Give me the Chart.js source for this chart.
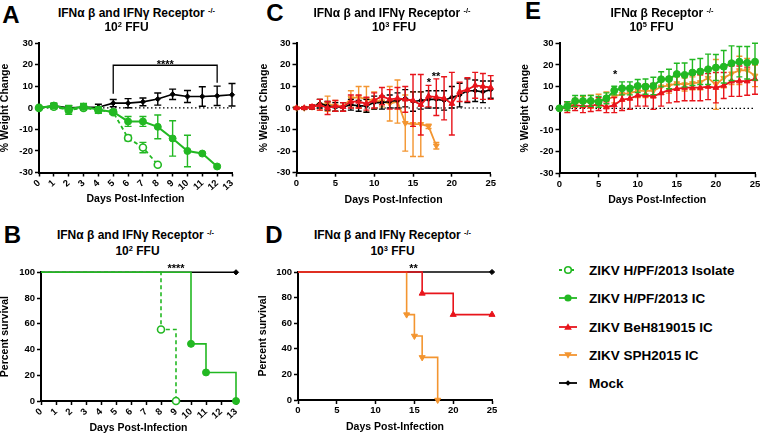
<!DOCTYPE html>
<html>
<head>
<meta charset="utf-8">
<script src="https://cdn.jsdelivr.net/npm/chart.js@4.4.0/dist/chart.umd.min.js"></script>
<style>
body { margin: 0; width: 760px; height: 434px; overflow: hidden; background: #fff; position: relative;
       font-family: 'Liberation Sans', Arial, sans-serif; }
canvas { position: absolute; }
.t { position: absolute; font-weight: bold; white-space: nowrap; transform: translate(-50%, -50%); color: #000; line-height: 1; }
.t sup { font-size: 0.62em; line-height: 0; vertical-align: 0.5em; }
.lg { position: absolute; font-weight: bold; white-space: nowrap; transform: translateY(-50%); font-size: 13.5px; line-height: 1; }
.mk { position: absolute; transform: translateY(-50%); }
</style>
</head>
<body>
<script>
// --- данные: панель A (вес, 10^2 FFU) ---
const daysA = [0, 1, 2, 3, 4, 5, 6, 7, 8, 9, 10, 11, 12, 13];
const aMock = [0, 1, 0, 0.3, 0.3, 2.2, 2.2, 2.8, 4.1, 6.3, 5.3, 5.3, 5.6, 6.1];
const aMockErr = [0.3, 1, 1, 1, 1.4, 1.7, 2.1, 1.8, 2.8, 2.4, 2.8, 4.5, 4.5, 5.2];
const aIC = [0, 1.1, -0.6, 0.6, -0.9, -1.9, -6.3, -6.3, -8.8, -14.2, -20, -21.2, -27.2];
const aICErr = [0.3, 1.2, 1.7, 1.5, 1.5, 1, 2.3, 2.3, 5.5, 8.2, 7.3, 0.5, 0.5];
const aIso = [0, 0.5, -1, 0, -1, -2, -14, -18.4, -26.4];
const aIsoErr = [0.3, 1, 2, 1, 1.5, 1, 1.3, 2.4, 0];

// --- панель C (вес, 10^3 FFU) ---
const daysC = [0, 1, 2, 3, 4, 5, 6, 7, 8, 9, 10, 11, 12, 13, 14, 15, 16, 17, 18, 19, 20, 21, 22, 23, 24, 25];
const cMock = [0, 0, 0.5, 2, 1, 0.5, 0.5, 1.5, 1, 1, 2.5, 2.5, 3, 3.5, 4.5, 3, 3.5, 4, 4, 3.5, 5, 6, 8, 8, 7.5, 8.5];
const cMockErr = [0.3, 0.5, 1, 2, 2, 2, 2, 2.5, 2.5, 3, 3, 3, 3, 3.5, 4, 4.5, 4, 4, 4, 4.5, 5, 5.5, 5.5, 5, 5, 4];
const cBeH = [0, 0, 0.5, 1.5, 0, 1, 0.5, 3, 3, 2, 3.5, 5.5, 4, 4.5, 4, 3.5, 1.5, 5.5, 5, 4.5, 2, 7.5, 8.5, 10.5, 10, 9.5];
const cBeHErr = [0.3, 0.5, 1, 2.5, 3, 2.5, 2, 3, 3, 3, 3.5, 4, 4.5, 5, 6, 12, 14, 5, 8.5, 10, 14.5, 4.5, 5.5, 6, 6, 5.5];
const cSPH = [0, 0, 0.5, 1.5, 2, 1, 0.5, 4.5, 5, 4, 3.5, 3, 2, 3, -7, -7.5, -7.5, -8.5, -17.5];
const cSPHErr = [0.3, 0.5, 1, 2.5, 3.5, 2.5, 2, 3.5, 5, 6, 4, 2.5, 8, 10, 13, 15, 15, 1, 1.5];

// --- панель E (вес, 10^5 FFU) ---
const daysE = daysC;
const eIC = [0, 1, 3.4, 3.4, 3.4, 3, 4.6, 8.2, 9.2, 9.2, 10.3, 10, 10.3, 13.4, 13.5, 15.8, 15.4, 16.5, 17, 18, 18.8, 19.2, 20.8, 21.5, 21, 21.5];
const eICErr = [0.3, 2, 2.5, 2.5, 2.5, 2.5, 2.5, 2, 3, 3, 3, 3.5, 4, 3.5, 4.5, 5, 5.5, 6, 6, 7, 6, 7.5, 8, 7, 7.5, 8.5];
const eBeH = [0, 0.5, 1.5, 1, 1, 2, 0.5, 1.5, 4, 4.5, 6, 6, 5.5, 7, 8.5, 9, 9.5, 9.5, 9.5, 10, 9.5, 10.5, 12.5, 12.5, 12.5, 13.5];
const eBeHErr = [0.3, 2.5, 2.5, 3, 2.5, 3, 2.5, 3.5, 5, 5, 5, 5, 6, 6, 6, 6, 6, 6, 6, 6, 7, 6, 7, 7, 6.5, 7];
const eSPH = [0, 1, 2.5, 3, 3, 3.5, 4, 5.5, 6.5, 7, 8, 8, 8, 10, 10.5, 11.5, 11, 11.5, 12, 14, 11, 14, 16, 17.5, 17.5, 15];
const eSPHErr = [0.3, 2, 2, 2.5, 3, 3, 3.5, 3, 3, 3, 3, 3, 3, 3.5, 3.5, 3, 3, 3, 3.5, 4, 11.5, 4.5, 5, 6.5, 5.5, 5];

// --- панель B (выживаемость, 10^2 FFU) ---
const bMockX = [0, 13], bMock = [100, 100];
const bICX = [0, 10, 11, 13], bIC = [100, 44.4, 22.2, 0];
const bIsoX = [0, 8, 9], bIso = [100, 55.6, 0];

// --- панель D (выживаемость, 10^3 FFU) ---
const dMockX = [0, 25], dMock = [100, 100];
const dBeHX = [0, 16, 20, 25], dBeH = [100, 83.3, 66.7, 66.7];
const dSPHX = [0, 14, 15, 16, 18], dSPH = [100, 66.7, 50, 33.3, 0];

// значимость
const aStars = [{x: 8.5, y: 18.6, text: '****'}];
const cStars = [{x: 17.05, y: 10.3, text: '*'}, {x: 17.97, y: 12.8, text: '**'}];
const eStars = [{x: 7.1, y: 14.1, text: '*'}];
const bStars = [{x: 9, y: 100.4, text: '****'}];
const dStars = [{x: 14.9, y: 100, text: '**'}];

const FONT = "'Liberation Sans', Arial, sans-serif";
const GREEN = '#22b822', RED = '#e8141b', ORANGE = '#f39530', BLACK = '#000000';

Chart.defaults.font.family = FONT;
Chart.defaults.color = '#000';
Chart.defaults.animation = false;

function pts(xs, ys) { return ys.map((v, i) => ({x: xs[i], y: v})); }

// усы погрешностей
const errorBars = {
    id: 'errorBars',
    beforeDatasetDraw(chart, args) {
        const ds = chart.data.datasets[args.index];
        if (!ds.errors) return;
        const ctx = chart.ctx, x = chart.scales.x, y = chart.scales.y;
        const cap = ds.cap || 3;
        ctx.save();
        ctx.strokeStyle = ds.borderColor;
        ctx.lineWidth = 1.4;
        ds.data.forEach((p, i) => {
            const e = ds.errors[i];
            if (!e) return;
            const px = x.getPixelForValue(p.x);
            const top = y.getPixelForValue(p.y + e), bot = y.getPixelForValue(p.y - e);
            ctx.beginPath();
            ctx.moveTo(px, top); ctx.lineTo(px, bot);
            ctx.moveTo(px - cap, top); ctx.lineTo(px + cap, top);
            ctx.moveTo(px - cap, bot); ctx.lineTo(px + cap, bot);
            ctx.stroke();
        });
        ctx.restore();
    }
};

function starPlugin(marks) {
    return {
        id: 'stars',
        afterDraw(chart) {
            const ctx = chart.ctx, x = chart.scales.x, y = chart.scales.y;
            ctx.save();
            ctx.fillStyle = '#000';
            ctx.font = 'bold 11px ' + FONT;
            ctx.textAlign = 'center';
            ctx.textBaseline = 'alphabetic';
            marks.forEach(m => ctx.fillText(m.text, x.getPixelForValue(m.x), y.getPixelForValue(m.y)));
            ctx.restore();
        }
    };
}

function line(label, xs, ys, errs, color, style, extra) {
    return Object.assign({
        label: label, data: pts(xs, ys), errors: errs,
        borderColor: color, backgroundColor: color, pointBackgroundColor: color, pointBorderColor: color,
        borderWidth: 1.8, pointStyle: style, pointRadius: 3.2, pointBorderWidth: 1, tension: 0, clip: false
    }, extra || {});
}

function surv(label, xs, ys, color, style, extra) {
    return Object.assign({
        label: label, data: pts(xs, ys),
        borderColor: color, backgroundColor: color, pointBackgroundColor: color, pointBorderColor: color,
        borderWidth: 1.6, stepped: true, pointStyle: style, pointBorderWidth: 1,
        pointRadius: c => c.dataIndex === 0 ? 0 : 3.5, clip: false
    }, extra || {});
}

function zeroLine(max) {
    return {data: pts([0, max], [0, 0]), borderColor: '#000', borderWidth: 1.2, borderDash: [1.5, 2.5], pointRadius: 0, clip: false};
}

function makeChart(box, datasets, xo, yo, marks) {
    const cl = Math.round(box.yTitleX - 6.3);
    const ct = Math.round(box.t - 12);
    const cw = Math.round(box.r + 16 - cl);
    const ch = Math.round(box.xTitleY + 6.3 - ct);
    const cv = document.createElement('canvas');
    cv.width = cw; cv.height = ch;
    cv.style.left = cl + 'px'; cv.style.top = ct + 'px';
    document.body.appendChild(cv);

    const axis = (o, text, pad) => ({
        type: 'linear', min: o.min, max: o.max,
        ticks: {stepSize: o.step, padding: pad, autoSkip: false, color: '#000', font: {size: 9.5, weight: 'bold'}},
        grid: {display: true, drawOnChartArea: false, drawTicks: true, tickLength: 4, tickColor: '#000', tickWidth: 1.5},
        border: {display: true, color: '#000', width: 2},
        title: {display: true, text: text, color: '#000', padding: 0, font: {size: 10.5, weight: 'bold', lineHeight: 1.2}}
    });
    const xa = axis(xo, 'Days Post-Infection', 1);
    xa.afterFit = s => { s.height = ch - (box.b - ct); };
    const ya = axis(yo, yo.title, 2);
    ya.afterFit = s => { s.width = box.l - cl; };

    return new Chart(cv, {
        type: 'line',
        data: {datasets: datasets},
        options: {
            responsive: false, animation: false,
            layout: {padding: {left: 0, top: box.t - ct, right: cw - (box.r - cl), bottom: 0}},
            scales: {x: xa, y: ya},
            plugins: {legend: {display: false}, tooltip: {enabled: false}}
        },
        plugins: [errorBars, starPlugin(marks)]
    });
}

function text(html, x, y, size) {
    const d = document.createElement('div');
    d.className = 't';
    d.style.left = x + 'px'; d.style.top = y + 'px'; d.style.fontSize = size + 'px';
    d.innerHTML = html;
    document.body.appendChild(d);
}

const wX = {min: 0, max: 13, step: 1};
const wX25 = {min: 0, max: 25, step: 5};
const wY = {min: -30, max: 30, step: 10, title: '% Weight Change'};
const sY = {min: 0, max: 100, step: 20, title: 'Percent survival'};

const triDown = {pointRotation: 180};

// A
makeChart({l: 39, t: 43.3, r: 232, b: 172.5, yTitleX: 5, xTitleY: 198.5}, [
    line('ZIKV H/PF/2013 IC', daysA, aIC, aICErr, GREEN, 'circle', {borderWidth: 2, pointRadius: 3.5, cap: 3.5}),
    line('ZIKV H/PF/2013 Isolate', daysA, aIso, aIsoErr, GREEN, 'circle',
        {borderDash: [4, 3], pointBackgroundColor: '#fff', pointBorderWidth: 1.6, pointRadius: 3.5, cap: 3.5}),
    line('Mock', daysA, aMock, aMockErr, BLACK, 'rectRot', {borderWidth: 1.6, pointRadius: 2.6, cap: 3.5}),
    {data: pts([5, 5, 12, 12], [6.6, 19.8, 19.8, 11.7]), borderColor: '#000', borderWidth: 1.3, pointRadius: 0, clip: false},
    zeroLine(13)
], wX, wY, aStars);

// C
makeChart({l: 296.5, t: 43.3, r: 490.7, b: 172.7, yTitleX: 264, xTitleY: 199.5}, [
    line('ZIKV BeH819015 IC', daysC, cBeH, cBeHErr, RED, 'triangle', {pointRadius: 3.3}),
    line('Mock', daysC, cMock, cMockErr, BLACK, 'rectRot', {pointRadius: 2.4, borderWidth: 1.6}),
    line('ZIKV SPH2015 IC', daysC, cSPH, cSPHErr, ORANGE, 'triangle', Object.assign({pointRadius: 3.3}, triDown)),
    zeroLine(25)
], wX25, wY, cStars);

// E
makeChart({l: 559.5, t: 43.3, r: 755, b: 173.3, yTitleX: 525, xTitleY: 200}, [
    line('ZIKV H/PF/2013 IC', daysE, eIC, eICErr, GREEN, 'circle', {pointRadius: 3.5, borderWidth: 2}),
    line('ZIKV BeH819015 IC', daysE, eBeH, eBeHErr, RED, 'triangle', {pointRadius: 3.3}),
    line('ZIKV SPH2015 IC', daysE, eSPH, eSPHErr, ORANGE, 'triangle', Object.assign({pointRadius: 3.3}, triDown)),
    zeroLine(25)
], wX25, wY, eStars);

// B
makeChart({l: 41, t: 272.3, r: 236, b: 401, yTitleX: 5, xTitleY: 427.3}, [
    surv('ZIKV H/PF/2013 IC', bICX, bIC, GREEN, 'circle'),
    surv('ZIKV H/PF/2013 Isolate', bIsoX, bIso, GREEN, 'circle', {borderDash: [4, 3], pointBackgroundColor: '#fff', pointBorderWidth: 1.6}),
    surv('Mock', bMockX, bMock, BLACK, 'rectRot', {pointRadius: c => c.dataIndex === 0 ? 0 : 2.6})
], wX, sY, bStars);

// D
makeChart({l: 298, t: 272, r: 492, b: 400, yTitleX: 263, xTitleY: 427}, [
    surv('ZIKV BeH819015 IC', dBeHX, dBeH, RED, 'triangle'),
    surv('ZIKV SPH2015 IC', dSPHX, dSPH, ORANGE, 'triangle', triDown),
    surv('Mock', dMockX, dMock, BLACK, 'rectRot', {pointRadius: c => c.dataIndex === 0 ? 0 : 2.6})
], wX25, sY, dStars);

// заголовки и буквы панелей
const rec = 'IFN&alpha; &beta; and IFN&gamma; Receptor <sup>-/-</sup>';
text('A', 11, 15.3, 24); text('C', 275, 12.8, 24); text('E', 533, 10.8, 24);
text('B', 12.5, 235, 24); text('D', 274, 235, 24);
text(rec, 136.5, 12.5, 12); text('10<sup>2</sup> FFU', 126.5, 27, 12);
text(rec, 392, 12.5, 12); text('10<sup>3</sup> FFU', 394, 27, 12);
text('IFN&alpha; &beta; Receptor <sup>-/-</sup>', 662, 12.5, 12); text('10<sup>5</sup> FFU', 651.5, 27, 12);
text(rec, 135.5, 235, 12); text('10<sup>2</sup> FFU', 137.5, 250.7, 12);
text(rec, 392.5, 235, 12); text('10<sup>3</sup> FFU', 392.5, 250.7, 12);

// легенда
const legendItems = [
    {label: 'ZIKV H/PF/2013 Isolate', color: GREEN, mark: 'open', y: 271},
    {label: 'ZIKV H/PF/2013 IC', color: GREEN, mark: 'circle', y: 299},
    {label: 'ZIKV BeH819015 IC', color: RED, mark: 'tri', y: 328},
    {label: 'ZIKV SPH2015 IC', color: ORANGE, mark: 'triDown', y: 356},
    {label: 'Mock', color: BLACK, mark: 'diamond', y: 384}
];
legendItems.forEach(it => {
    const c = it.color;
    let m = '';
    if (it.mark === 'open') m = `<circle cx="10" cy="6" r="3.3" fill="#fff" stroke="${c}" stroke-width="1.6"/>`;
    if (it.mark === 'circle') m = `<circle cx="10" cy="6" r="3.6" fill="${c}"/>`;
    if (it.mark === 'tri') m = `<polygon points="10,2.3 13.8,8.8 6.2,8.8" fill="${c}"/>`;
    if (it.mark === 'triDown') m = `<polygon points="10,9.7 13.8,3.2 6.2,3.2" fill="${c}"/>`;
    if (it.mark === 'diamond') m = `<polygon points="10,3.2 12.8,6 10,8.8 7.2,6" fill="${c}"/>`;
    const dash = it.mark === 'open' ? ' stroke-dasharray="3,3"' : '';
    const s = document.createElement('div');
    s.className = 'mk';
    s.style.left = '558px'; s.style.top = it.y + 'px';
    s.innerHTML = `<svg width="22" height="12"><line x1="1" y1="6" x2="19" y2="6" stroke="${c}" stroke-width="1.8"${dash}/>${m}</svg>`;
    document.body.appendChild(s);
    const d = document.createElement('div');
    d.className = 'lg';
    d.style.left = '589px'; d.style.top = it.y + 'px';
    d.textContent = it.label;
    document.body.appendChild(d);
});
</script>
</body>
</html>
